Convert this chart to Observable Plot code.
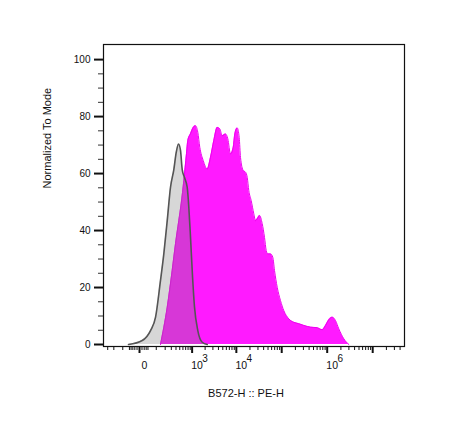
<!DOCTYPE html>
<html><head><meta charset="utf-8">
<script src="https://cdn.jsdelivr.net/npm/d3@7"></script>
<script src="https://cdn.jsdelivr.net/npm/@observablehq/plot@0.6"></script>
<style>html,body{margin:0;padding:0;background:#fff} svg{display:block}</style>
</head><body><div id="chart"></div>
<script>
// Control (unstained) histogram: fluorescence value, % of mode
const controlX = [-56, 11, 56, 94, 142, 182, 230, 285, 351, 406, 465, 522, 576, 656, 763, 834, 916, 1005, 1138, 1358, 1716, 2232];
const controlY = [0, 1.4, 4.9, 9.6, 22.5, 31.9, 43.5, 55.2, 61.4, 67.4, 70.4, 68.1, 61.4, 58.6, 55.2, 48.2, 37.6, 25.9, 13.1, 4.9, 0.8, 0];
// Stained sample histogram
const sampleX = [142, 230, 317, 389, 473, 544, 631, 734, 789, 916, 1061, 1201, 1358, 1511, 1809, 2232, 2651, 3146, 3751, 4289, 4853, 5749, 6468, 7425, 8528, 9250, 10455, 11573, 12368, 14190, 15950, 17393, 18863, 21300, 24305, 26500, 28890, 32470, 37240, 41840, 45590, 49450, 56700, 63710, 69430, 79620, 94100, 111200, 143300, 184600, 237800, 306400, 430000, 603700, 777500, 919000, 1085800, 1289300, 1523500, 1800000, 2319000, 2988000];
const sampleY = [0, 13.1, 26.0, 35.4, 43.5, 49.5, 57.5, 67.0, 71.6, 74.0, 76.2, 76.8, 74.5, 69.2, 64.6, 61.6, 65.7, 71.6, 76.2, 75.7, 73.3, 73.9, 72.2, 66.9, 69.2, 73.9, 76.0, 72.7, 65.7, 61.1, 60.5, 58.7, 54.0, 50.5, 45.9, 43.5, 44.1, 45.3, 42.4, 37.6, 33.0, 31.8, 31.8, 30.6, 26.0, 20.1, 15.4, 11.9, 9.0, 7.8, 7.3, 6.7, 6.1, 5.9, 5.2, 6.7, 8.7, 9.6, 8.4, 5.5, 2.0, 0];

// Axis ticks
const yMajor = [0, 20, 40, 60, 80, 100];
const yMinor = [5, 10, 15, 25, 30, 35, 45, 50, 55, 65, 70, 75, 85, 90, 95];
const xMajor = [0, 1e3, 1e4, 1e5, 1e6, 1e7];
const xMinor = [-300, -200, -100, -50, -40, -30, -20, -10, 10, 20, 30, 40,
  100, 200, 300, 400, 500, 600, 700, 800, 900,
  2e3, 3e3, 4e3, 5e3, 6e3, 7e3, 8e3, 9e3,
  2e4, 3e4, 4e4, 5e4, 6e4, 7e4, 8e4, 9e4,
  2e5, 3e5, 4e5, 5e5, 6e5, 7e5, 8e5, 9e5,
  2e6, 3e6, 4e6, 5e6, 6e6, 7e6, 8e6, 9e6,
  2e7, 3e7, 4e7];
const xLabelValues = [0, 1e3, 1e4, 1e6];
const xLabelBase = ["0", "10", "10", "10"];
const xLabelExp = ["", "3", "4", "6"];
const xTitle = "B572-H :: PE-H";
const yTitle = "Normalized To Mode";

const control = controlX.map((x, i) => ({x, y: controlY[i]}));
const sample = sampleX.map((x, i) => ({x, y: sampleY[i]}));
const xLabels = xLabelValues.map((v, i) => ({v, base: xLabelBase[i], exp: xLabelExp[i]}));

const chart = Plot.plot({
  width: 468,
  height: 435,
  marginLeft: 103,
  marginRight: 64,
  marginTop: 44,
  marginBottom: 89,
  x: {type: "symlog", constant: 75, domain: [-389, 5e7]},
  y: {domain: [-0.7, 105.3]},
  style: {fontFamily: "'Liberation Sans', Arial, sans-serif", fontSize: "10px", background: "white", color: "#111"},
  marks: [
    Plot.areaY(sample, {x: "x", y: "y", fill: "#ff1aff", curve: "monotone-x"}),
    Plot.lineY(sample, {x: "x", y: "y", stroke: "#ee00ee", strokeWidth: 1, curve: "monotone-x"}),
    Plot.areaY(control, {x: "x", y: "y", fill: "#7a7a7a", fillOpacity: 0.3, curve: "monotone-x"}),
    Plot.lineY(control, {x: "x", y: "y", stroke: "#555", strokeWidth: 1.6, curve: "monotone-x"}),
    Plot.frame({stroke: "#111", strokeWidth: 1.2}),
    Plot.axisY(yMinor, {tickSize: 5, tickFormat: () => "", label: null, stroke: "#333"}),
    Plot.axisY(yMajor, {tickSize: 9, tickPadding: 4, strokeWidth: 2, label: null, fontSize: 10, stroke: "#111"}),
    Plot.axisX(xMinor, {tickSize: 4, tickFormat: () => "", label: null, stroke: "#111"}),
    Plot.axisX(xMajor, {tickSize: 7, strokeWidth: 2, tickFormat: () => "", label: null, stroke: "#111"}),
    Plot.text(xLabels, {x: "v", text: "base", frameAnchor: "bottom", dy: 22, dx: 5, fontSize: 10.5, fill: "#111"}),
    Plot.text(xLabels, {x: "v", text: "exp", frameAnchor: "bottom", dy: 15, dx: 13, fontSize: 10, fill: "#111"}),
    Plot.text([xTitle], {text: d => d, frameAnchor: "bottom", dy: 50, dx: -8, fontSize: 11, fill: "#111"}),
    Plot.text([yTitle], {text: d => d, frameAnchor: "left", dx: -56, dy: -7, rotate: -90, fontSize: 11, fill: "#111"})
  ]
});
document.getElementById("chart").appendChild(chart);
</script>
</body></html>
